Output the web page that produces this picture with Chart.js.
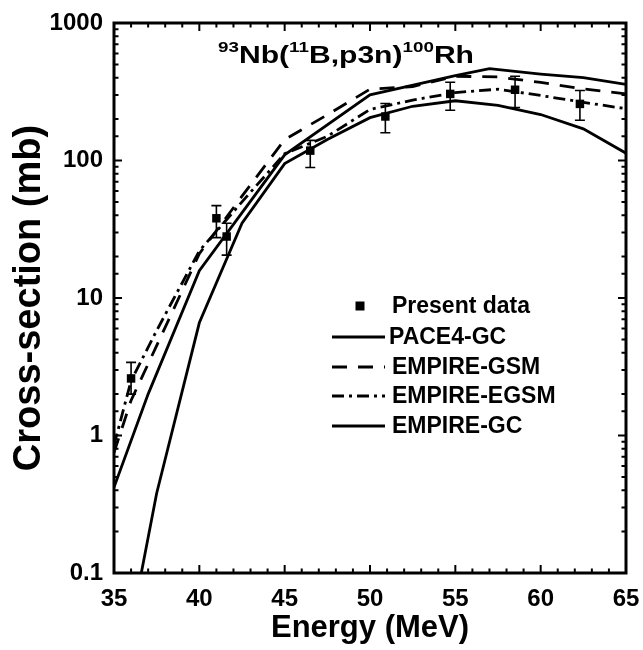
<!DOCTYPE html>
<html>
<head>
<meta charset="utf-8">
<script src="https://cdn.jsdelivr.net/npm/chart.js@4.4.1/dist/chart.umd.min.js"></script>
<style>
  html, body { margin: 0; padding: 0; background: #fff; }
  #wrap { width: 643px; height: 650px; }
</style>
</head>
<body>
<div id="wrap"><canvas id="chart" width="643" height="650"></canvas></div>
<script>

// gemessene Punkte
const expEnergy = [36.0, 41.0, 41.6, 46.5, 50.9, 54.7, 58.5, 62.3];
const expXs     = [2.6, 38, 28, 118, 209, 305, 327, 258];
const expErrLo  = [2.0, 27.5, 20.5, 89, 159, 232, 243, 196];
const expErrHi  = [3.4, 47, 35, 140, 260, 371, 410, 323];

// PACE4-GC
const paceEnergy = [35, 37, 40, 45, 50, 55, 57, 60, 62.5, 65];
const paceXs     = [0.42, 2.0, 15.8, 110, 300, 415, 465, 425, 400, 358];

// EMPIRE-GSM
const gsmEnergy = [35, 36, 37.5, 40, 42.5, 45, 47.5, 50, 52.5, 55, 57.5, 60, 62.5, 65];
const gsmXs     = [0.75, 1.8, 4.5, 21, 55, 142, 215, 330, 345, 410, 405, 370, 332, 305];

// EMPIRE-EGSM
const egsmEnergy = [35, 36, 37.5, 40, 42.5, 45, 47.5, 50, 52.5, 55, 57.5, 60, 62.5, 65];
const egsmXs     = [0.85, 2.5, 5.8, 22, 50, 112, 150, 235, 275, 312, 330, 297, 265, 238];

// EMPIRE-GC
const gcEnergy = [36.6, 37.5, 40, 42.5, 45, 47.5, 50, 52.5, 55, 57.5, 60, 62.5, 65];
const gcXs     = [0.1, 0.38, 6.6, 35, 95, 142, 205, 248, 272, 252, 216, 170, 113];

// Achsen
const xTickLabels = [35, 40, 45, 50, 55, 60, 65];
const yTickLabels = ["0.1", "1", "10", "100", "1000"];

const FONT = "'Liberation Sans', Arial, sans-serif";

function toPts(xs, ys) {
  return xs.map((x, i) => ({ x: x, y: ys[i] }));
}

function isDecade(v) {
  const l = Math.log10(v);
  return Math.abs(l - Math.round(l)) < 1e-6;
}

function lineSet(label, xs, ys, dash) {
  return {
    label: label,
    data: toPts(xs, ys),
    showLine: true,
    borderColor: "#000",
    backgroundColor: "#000",
    borderWidth: 2.8,
    borderDash: dash,
    pointRadius: 0,
    fill: false,
    tension: 0
  };
}

// Fehlerbalken für die Messpunkte
const errorBars = {
  id: "errorBars",
  afterDatasetsDraw(chart) {
    const ctx = chart.ctx;
    const yS = chart.scales.y;
    const meta = chart.getDatasetMeta(0);
    ctx.save();
    ctx.strokeStyle = "#000";
    ctx.lineWidth = 1.6;
    meta.data.forEach((pt, i) => {
      const yHi = yS.getPixelForValue(expErrHi[i]);
      const yLo = yS.getPixelForValue(expErrLo[i]);
      ctx.beginPath();
      ctx.moveTo(pt.x, yHi); ctx.lineTo(pt.x, yLo);
      ctx.moveTo(pt.x - 5, yHi); ctx.lineTo(pt.x + 5, yHi);
      ctx.moveTo(pt.x - 5, yLo); ctx.lineTo(pt.x + 5, yLo);
      ctx.stroke();
    });
    ctx.restore();
  }
};

// Rahmen mit Ticks nach innen (alle vier Seiten)
const frameTicks = {
  id: "frameTicks",
  afterDraw(chart) {
    const ctx = chart.ctx;
    const a = chart.chartArea;
    const xS = chart.scales.x, yS = chart.scales.y;
    ctx.save();
    ctx.strokeStyle = "#000";
    ctx.lineWidth = 2;
    ctx.beginPath();
    xS.ticks.forEach(t => {
      const v = t.value;
      if (v <= xS.min || v >= xS.max) return;
      const px = xS.getPixelForValue(v);
      const len = (v % 5 === 0) ? 8 : 4.5;
      ctx.moveTo(px, a.bottom); ctx.lineTo(px, a.bottom - len);
      ctx.moveTo(px, a.top); ctx.lineTo(px, a.top + len);
    });
    yS.ticks.forEach(t => {
      const v = t.value;
      if (v <= yS.min * 1.0001 || v >= yS.max * 0.9999) return;
      const py = yS.getPixelForValue(v);
      const len = isDecade(v) ? 8 : 4.5;
      ctx.moveTo(a.left, py); ctx.lineTo(a.left + len, py);
      ctx.moveTo(a.right, py); ctx.lineTo(a.right - len, py);
    });
    ctx.stroke();
    ctx.lineWidth = 3;
    ctx.strokeRect(a.left, a.top, a.right - a.left, a.bottom - a.top);
    ctx.restore();
  }
};

// Reaktionstitel mit hochgestellten Massenzahlen
const reactionTitle = {
  id: "reactionTitle",
  afterDraw(chart) {
    const ctx = chart.ctx;
    const parts = [
      ["93", true], ["Nb(", false], ["11", true], ["B,p3n)", false], ["100", true], ["Rh", false]
    ];
    const big = "bold 24px " + FONT, small = "bold 15px " + FONT;
    ctx.save();
    let w = 0;
    parts.forEach(p => { ctx.font = p[1] ? small : big; w += ctx.measureText(p[0]).width; });
    const x0 = 218, x1 = 474, base = 63;
    const sx = (x1 - x0) / w;
    ctx.translate(x0, base);
    ctx.scale(sx, 1);
    ctx.fillStyle = "#000";
    ctx.textBaseline = "alphabetic";
    ctx.textAlign = "left";
    let x = 0;
    parts.forEach(p => {
      ctx.font = p[1] ? small : big;
      ctx.fillText(p[0], x, p[1] ? -11 : 0);
      x += ctx.measureText(p[0]).width;
    });
    ctx.restore();
  }
};

// Legende innen
const innerLegend = {
  id: "innerLegend",
  afterDraw(chart) {
    const ctx = chart.ctx;
    const rows = [306, 337, 367, 396, 426];
    ctx.save();
    ctx.fillStyle = "#000";
    ctx.strokeStyle = "#000";
    ctx.font = "bold 23px " + FONT;
    ctx.textBaseline = "middle";
    chart.data.datasets.forEach((ds, i) => {
      const y = rows[i];
      if (i === 0) {
        ctx.fillRect(360 - 4.5, y - 4.5, 9, 9);
      } else {
        ctx.lineWidth = ds.borderWidth;
        ctx.setLineDash(ds.borderDash || []);
        ctx.beginPath();
        ctx.moveTo(332, y); ctx.lineTo(385, y);
        ctx.stroke();
        ctx.setLineDash([]);
      }
      ctx.fillText(ds.label, i === 1 ? 389 : 392, y + 1);
    });
    ctx.restore();
  }
};

new Chart(document.getElementById("chart"), {
  type: "scatter",
  data: {
    datasets: [
      {
        label: "Present data",
        data: toPts(expEnergy, expXs),
        showLine: false,
        pointStyle: "rect",
        pointRadius: 6,
        pointHoverRadius: 6,
        backgroundColor: "#000",
        borderColor: "#000",
        borderWidth: 0
      },
      lineSet("PACE4-GC", paceEnergy, paceXs, []),
      lineSet("EMPIRE-GSM", gsmEnergy, gsmXs, [15, 11]),
      lineSet("EMPIRE-EGSM", egsmEnergy, egsmXs, [12, 5, 3, 5]),
      lineSet("EMPIRE-GC", gcEnergy, gcXs, [])
    ]
  },
  options: {
    responsive: false,
    animation: false,
    devicePixelRatio: 1,
    layout: { padding: { top: 23, right: 17, left: 0, bottom: 0 } },
    plugins: {
      legend: { display: false },
      tooltip: { enabled: false }
    },
    scales: {
      x: {
        type: "linear",
        min: 35,
        max: 65,
        afterFit: s => { s.height = 77; s.paddingLeft = 0; s.paddingRight = 0; },
        grid: { display: false, drawTicks: false },
        border: { display: false },
        ticks: {
          stepSize: 1,
          autoSkip: false,
          maxRotation: 0,
          padding: 12,
          color: "#000",
          font: { family: FONT, size: 24, weight: "bold" },
          callback: v => xTickLabels.includes(v) ? String(v) : ""
        },
        title: {
          display: true,
          text: "Energy (MeV)",
          color: "#000",
          font: { family: FONT, size: 31, weight: "bold" },
          padding: { top: 0, bottom: 3 }
        }
      },
      y: {
        type: "logarithmic",
        min: 0.1,
        max: 1000,
        afterFit: s => { s.width = 114; s.paddingTop = 0; s.paddingBottom = 0; },
        grid: { display: false, drawTicks: false },
        border: { display: false },
        ticks: {
          autoSkip: false,
          padding: 11,
          color: "#000",
          font: { family: FONT, size: 24, weight: "bold" },
          callback: v => {
            if (!isDecade(v)) return "";
            const s = v < 1 ? v.toFixed(1) : String(Math.round(v));
            return yTickLabels.includes(s) ? s : "";
          }
        },
        title: {
          display: true,
          text: "Cross-section (mb)",
          color: "#000",
          font: { family: FONT, size: 38, weight: "bold" },
          padding: { top: 7, bottom: 0 }
        }
      }
    }
  },
  plugins: [errorBars, frameTicks, reactionTitle, innerLegend]
});
</script>
</body>
</html>
